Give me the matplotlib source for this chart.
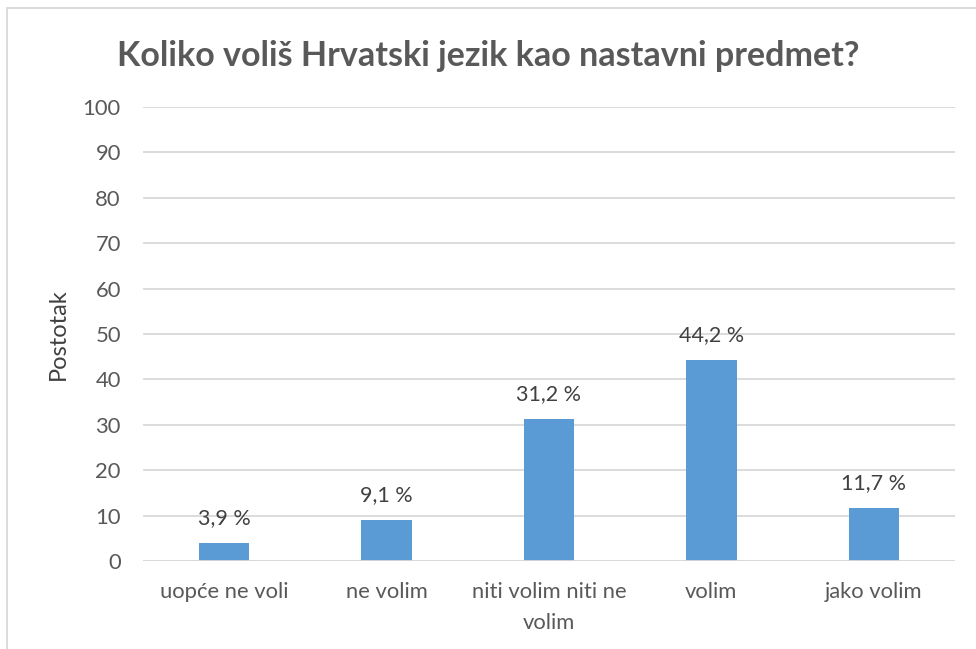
import matplotlib.pyplot as plt
from matplotlib.patches import Rectangle

categories = ["uopće ne voli", "ne volim", "niti volim niti ne\nvolim", "volim", "jako volim"]
values = [3.9, 9.1, 31.2, 44.2, 11.7]
labels = ["3,9 %", "9,1 %", "31,2 %", "44,2 %", "11,7 %"]
yticks = [0, 10, 20, 30, 40, 50, 60, 70, 80, 90, 100]

plt.rcParams["font.family"] = ["Lato", "DejaVu Sans"]
text_color = "#595959"

fig = plt.figure(figsize=(9.76, 6.49), dpi=100)
ax = fig.add_axes([143 / 976, 88 / 649, 812 / 976, 454 / 649])

x = range(len(categories))
bars = ax.bar(x, values, width=0.31, color="#5B9BD5", zorder=3)
for b, lab in zip(bars, labels):
    ax.text(b.get_x() + b.get_width() / 2, b.get_height() + 3.3, lab,
            ha="center", va="bottom", fontsize=15.5, color="#404040")

ax.set_xlim(-0.5, len(categories) - 0.5)
ax.set_ylim(0, 100)
ax.set_yticks(yticks)
ax.set_xticks(list(x))
ax.set_xticklabels(categories, fontsize=15.8, color=text_color, linespacing=1.7)
ax.tick_params(axis="y", labelsize=15.8, labelcolor=text_color, length=0, pad=16)
ax.tick_params(axis="x", length=0, pad=15)
ax.grid(axis="y", color="#D9D9D9", linewidth=1.3, zorder=0)
ax.set_axisbelow(True)
for s in ax.spines.values():
    s.set_visible(False)
ax.axhline(0, color="#D9D9D9", linewidth=1.3, zorder=4)

ax.set_ylabel("Postotak", fontsize=17, color="#404040", labelpad=10)

fig.text(0.5, 1 - 56 / 649, "Koliko voliš Hrvatski jezik kao nastavni predmet?",
         ha="center", va="center", fontsize=24.5, fontweight="bold", color=text_color)

# chart border (cut off at right and bottom)
fig.add_artist(Rectangle((7 / 976, -0.1), 1.2, 1 - 8 / 649 + 0.1, transform=fig.transFigure,
                         fill=False, edgecolor="#D9D9D9", linewidth=1.3))

fig.savefig("out.png", dpi=100)
